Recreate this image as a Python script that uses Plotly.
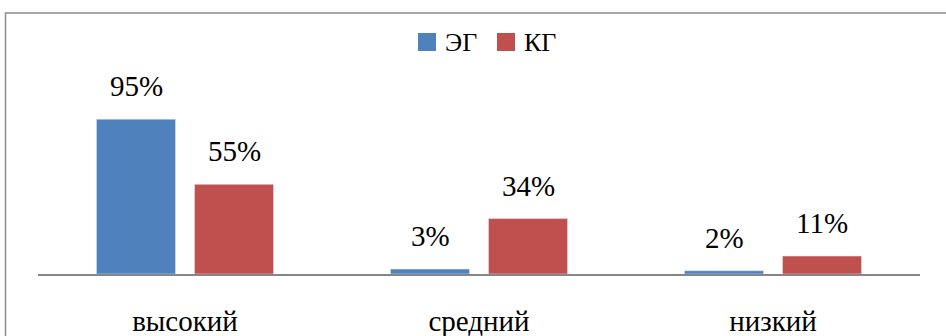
import plotly.graph_objects as go

# Уровни и доли по группам
categories = ["высокий", "средний", "низкий"]
series_names = ["ЭГ", "КГ"]
eg_values = [95, 3, 2]
kg_values = [55, 34, 11]
colors = ["#4F81BD", "#C0504D"]

FONT = "Liberation Serif"

# Геометрия области построения (в пикселях)
W, H = 946, 336
L, R, T, B = 38, 26, 111, 62
PW, PH = W - L - R, H - T - B


def px_x(x):
    return (x - L) / PW


def px_y(y):
    return (H - B - y) / PH


fig = go.Figure()
for name, vals, col in zip(series_names, [eg_values, kg_values], colors):
    fig.add_trace(go.Bar(x=categories, y=vals, name=name, marker_color=col,
                         showlegend=False))

# Подписи значений над столбцами
offsets = [-49, 49]
for vals, dx in zip([eg_values, kg_values], offsets):
    for cat, v in zip(categories, vals):
        fig.add_annotation(
            x=cat, y=v, text=f"{v}%", showarrow=False,
            xshift=dx, yshift=15, yanchor="bottom",
            font=dict(family=FONT, size=29, color="black"),
        )

# Рамка области диаграммы
fig.add_shape(
    type="rect", xref="paper", yref="paper",
    x0=px_x(5.5), x1=px_x(960), y0=px_y(360), y1=px_y(13),
    line=dict(color="#8C8C8C", width=1.5), layer="below",
)

# Легенда: цветные квадраты и названия групп
legend_items = [(418, 443), (497, 522)]
for (sx, tx), name, col in zip(legend_items, series_names, colors):
    fig.add_shape(
        type="rect", xref="paper", yref="paper",
        x0=px_x(sx), x1=px_x(sx + 18), y0=px_y(51), y1=px_y(33),
        line=dict(width=0), fillcolor=col,
    )
    fig.add_annotation(
        x=px_x(tx), y=px_y(42), xref="paper", yref="paper", text=name,
        showarrow=False, xanchor="left", yanchor="middle",
        font=dict(family=FONT, size=26, color="black"),
    )

fig.update_layout(
    width=W, height=H,
    margin=dict(l=L, r=R, t=T, b=B),
    paper_bgcolor="white", plot_bgcolor="white",
    barmode="group", bargap=0.333, bargroupgap=0.194,
)
fig.update_xaxes(
    showline=True, linecolor="#868686", linewidth=1.5,
    showgrid=False, ticks="", ticklabelstandoff=20, automargin=False,
    tickfont=dict(family=FONT, size=29, color="black"),
)
fig.update_yaxes(range=[0, 100], visible=False, automargin=False)

fig.write_html("out.html")
